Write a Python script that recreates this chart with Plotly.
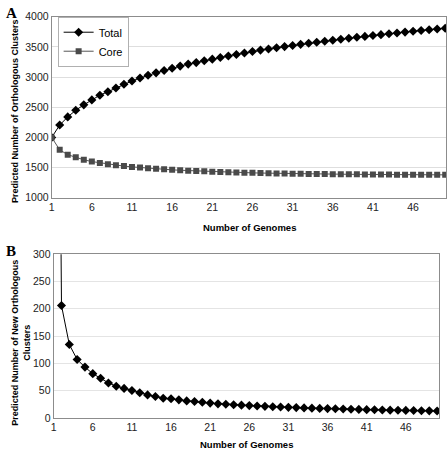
import plotly.graph_objects as go

genomes = list(range(1, 51))
total = [2000, 2205, 2340, 2450, 2540, 2622, 2700, 2757, 2820, 2880,
         2935, 2984, 3030, 3070, 3108, 3146, 3182, 3215, 3240, 3270,
         3297, 3324, 3350, 3375, 3400, 3424, 3447, 3466, 3486, 3505,
         3524, 3542, 3560, 3577, 3594, 3611, 3627, 3643, 3659, 3674,
         3689, 3703, 3717, 3731, 3745, 3758, 3771, 3784, 3797, 3809]
core = [2000, 1795, 1714, 1670, 1630, 1600, 1578, 1557, 1540, 1525,
        1512, 1500, 1490, 1480, 1472, 1463, 1456, 1450, 1444, 1438,
        1433, 1428, 1424, 1420, 1416, 1413, 1410, 1407, 1404, 1402,
        1400, 1398, 1396, 1394, 1393, 1391, 1390, 1389, 1388, 1387,
        1386, 1385, 1384, 1383, 1382, 1382, 1381, 1381, 1380, 1380]
new_clusters = [2000, 206, 134.5, 107, 93, 81, 72.6, 64, 58, 54,
                50, 46, 42, 39, 36, 35, 33, 31, 30, 28.5,
                27, 25.6, 24.8, 24.0, 23.2, 22.4, 21.7, 21.0, 20.4, 19.8,
                19.2, 18.7, 18.2, 17.7, 17.3, 16.9, 16.5, 16.1, 15.7, 15.4,
                15.0, 14.7, 14.4, 14.1, 13.8, 13.6, 13.3, 13.1, 12.8, 12.6]
x_ticks = [1, 6, 11, 16, 21, 26, 31, 36, 41, 46]

W, H = 448, 454
FONT = "Liberation Sans, Arial, sans-serif"

fig = go.Figure()
fig.add_trace(go.Scatter(x=genomes, y=total, name="Total", mode="lines+markers",
                         line=dict(color="#000000", width=1),
                         marker=dict(symbol="diamond", size=7, color="#000000"),
                         xaxis="x", yaxis="y"))
fig.add_trace(go.Scatter(x=genomes, y=core, name="Core", mode="lines+markers",
                         line=dict(color="#555555", width=1),
                         marker=dict(symbol="square", size=6, color="#4a4a4a"),
                         xaxis="x", yaxis="y"))
fig.add_trace(go.Scatter(x=genomes, y=new_clusters, name="New", mode="lines+markers",
                         showlegend=False,
                         line=dict(color="#000000", width=1),
                         marker=dict(symbol="diamond", size=7, color="#000000"),
                         xaxis="x2", yaxis="y2"))

def px_x(p):
    return p / W

def px_y(p):
    return 1 - p / H

axis_common = dict(showline=True, linecolor="#8c8c8c", linewidth=1, mirror=True,
                   ticks="", tickfont=dict(family=FONT, size=10.5, color="#222222"),
                   zeroline=False)

fig.update_layout(
    width=W, height=H,
    margin=dict(l=0, r=0, t=0, b=0),
    paper_bgcolor="white", plot_bgcolor="white",
    font=dict(family=FONT, color="#000000"),
    xaxis=dict(domain=[px_x(49), px_x(446)], range=[1, 50.1], tickvals=x_ticks,
               showgrid=False, anchor="y", **axis_common),
    yaxis=dict(domain=[px_y(197), px_y(11)], range=[1000, 4000], dtick=500,
               showgrid=True, gridcolor="#dedede", gridwidth=1, anchor="x", **axis_common),
    xaxis2=dict(domain=[px_x(51), px_x(439)], range=[1, 50.25], tickvals=x_ticks,
                showgrid=False, anchor="y2", **axis_common),
    yaxis2=dict(domain=[px_y(423), px_y(255)], range=[0, 300], dtick=50,
                showgrid=True, gridcolor="#e4e4e4", gridwidth=1, anchor="x2", **axis_common),
    legend=dict(x=px_x(55), y=px_y(11), xanchor="left", yanchor="top",
                bgcolor="white", bordercolor="#b0b0b0", borderwidth=1,
                font=dict(family=FONT, size=11, color="#000000"),
                itemwidth=30, tracegroupgap=2),
    showlegend=True,
)

ann = [
    dict(text="<b>A</b>", x=px_x(1), y=px_y(7), xanchor="left", yanchor="middle",
         font=dict(family="Liberation Serif, Times New Roman, serif", size=15)),
    dict(text="<b>B</b>", x=px_x(1), y=px_y(252), xanchor="left", yanchor="middle",
         font=dict(family="Liberation Serif, Times New Roman, serif", size=15)),
    dict(text="<b>Number of Genomes</b>", x=px_x(248), y=px_y(228), xanchor="center",
         yanchor="middle", font=dict(family=FONT, size=9.5)),
    dict(text="<b>Number of Genomes</b>", x=px_x(245), y=px_y(450), xanchor="center",
         yanchor="middle", font=dict(family=FONT, size=9.5)),
    dict(text="<b>Predicted Number of Orthologous Clusters</b>", x=px_x(12), y=px_y(108),
         xanchor="center", yanchor="middle", textangle=-90, font=dict(family=FONT, size=9)),
    dict(text="<b>Predicted Number of New Orthologous<br>Clusters</b>", x=px_x(18), y=px_y(346),
         xanchor="center", yanchor="middle", textangle=-90, font=dict(family=FONT, size=9)),
]
for a in ann:
    a.update(xref="paper", yref="paper", showarrow=False)
fig.update_layout(annotations=ann)

fig.write_html("out.html", config={"displayModeBar": False},
               post_script="document.body.style.margin='0';document.body.style.overflow='hidden';")
